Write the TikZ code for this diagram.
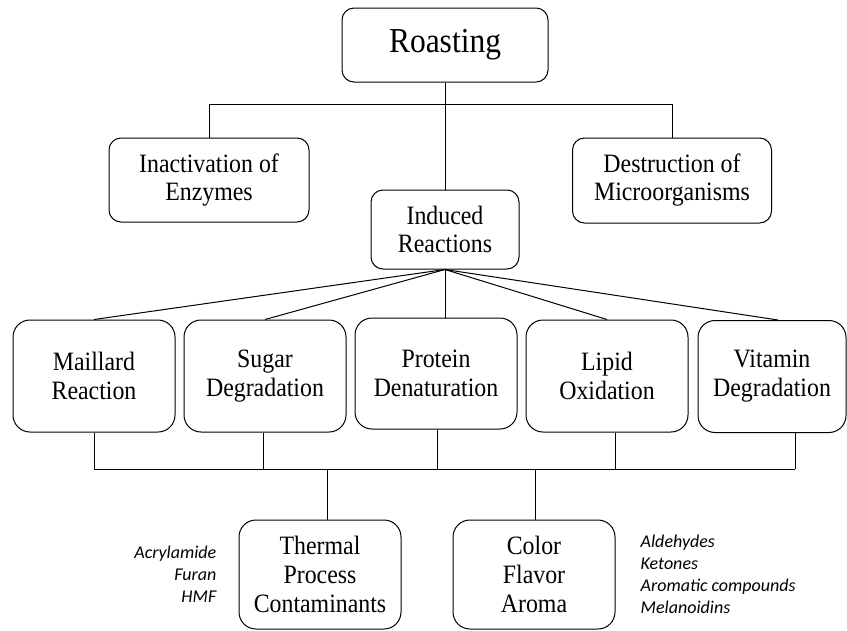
\documentclass[tikz,border=0pt]{standalone}
\usepackage{fontspec}
\setmainfont{Liberation Serif}[FakeStretch=0.9]
\newfontfamily\notefont{Carlito}
\usetikzlibrary{positioning}

\begin{document}
\begin{tikzpicture}[x=1pt, y=-1pt,
		stage/.style={rectangle, draw, line width=1pt, rounded corners=12pt, align=center, inner sep=0pt, text=black, font=\fontsize{26.5}{28}\selectfont},
		reaction/.style={stage, rounded corners=17pt, minimum width=162pt, minimum height=112pt, font=\fontsize{26.5}{29}\selectfont},
		product/.style={reaction, minimum height=109pt},
		note/.style={inner sep=0pt, text=black, font=\notefont\itshape\fontsize{18}{22}\selectfont},
		link/.style={line width=1pt}
]

\useasboundingbox (0,0) rectangle (847,630);

\node [stage, minimum width=206pt, minimum height=74pt, font=\fontsize{35}{38}\selectfont] (Roasting) at (445,45) {Roasting};
\node [stage, minimum width=200pt, minimum height=84pt] (Inactivation) at (209,180) {Inactivation of\\Enzymes};
\node [stage, minimum width=199pt, minimum height=85pt] (Destruction) at (672,180.5) {Destruction of\\Microorganisms};
\node [stage, minimum width=148pt, minimum height=79pt] (Induced) at (445,229.5) {Induced\\Reactions};

\node [reaction] (Maillard) at (94,376) {Maillard\\Reaction};
\node [reaction] (Sugar) at (265,376) {Sugar\\Degradation};
\node [reaction, minimum height=111pt] (Protein) at (436,373.5) {Protein\\Denaturation};
\node [reaction] (Lipid) at (607,376) {Lipid\\Oxidation};
\node [reaction, minimum width=148pt] (Vitamin) at (772,376.5) {Vitamin\\Degradation};

\node [product] (Thermal) at (320,574.5) {Thermal\\Process\\Contaminants};
\node [product] (Color) at (534,574.5) {Color\\Flavor\\Aroma};
\node [note, align=right, left=22pt of Thermal] (Contaminants) {Acrylamide\\Furan\\HMF};
\node [note, align=left, right=25pt of Color] (Compounds) {Aldehydes\\Ketones\\Aromatic compounds\\Melanoidins};

\draw [link] (Roasting) -- (Induced);
\draw [link] (Inactivation.north) -- ++(0,-33) -| (Destruction.north);

\foreach \name in {Maillard, Sugar, Lipid}
	\draw [link] (Induced.south) -- (\name.north);
\draw [link] (Induced.south) -- ([xshift=6pt]Vitamin.north);
\draw [link] (Induced.south) -- (Induced.south |- Protein.north);

\coordinate (lowbar) at (0,469);
\foreach \name/\dx in {Maillard/0, Sugar/-2, Protein/1, Lipid/8, Vitamin/23} {
	\path ([xshift=\dx pt]\name.south) coordinate (\name-out);
	\draw [link] (\name-out) -- (\name-out |- lowbar);
}
\draw [link] (Maillard-out |- lowbar) -- (Vitamin-out |- lowbar);
\foreach \name/\dx in {Thermal/7, Color/1} {
	\path ([xshift=\dx pt]\name.north) coordinate (\name-in);
	\draw [link] (\name-in) -- (\name-in |- lowbar);
}

\end{tikzpicture}
\end{document}
